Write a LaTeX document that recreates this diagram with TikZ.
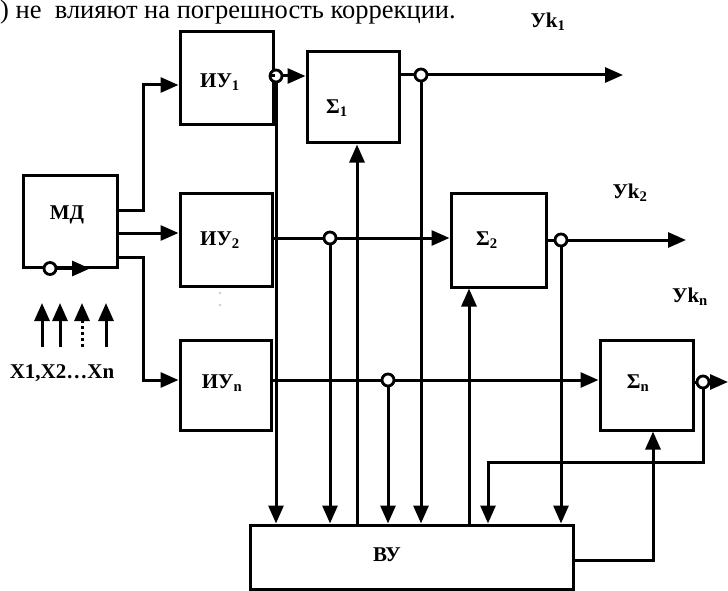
\documentclass[tikz,border=0pt]{standalone}
\usepackage{fontspec}
\setmainfont{Liberation Serif}
\usetikzlibrary{arrows.meta}

\begin{document}
\begin{tikzpicture}[
  x=1pt, y=-1pt,
  arrow/.style={->, >={Triangle[length=18pt, width=15pt]}, line width=3pt},
  box/.style={draw, line width=3pt, inner sep=0pt},
  tap/.style={circle, draw, fill=white, line width=2.8pt, minimum size=12pt, inner sep=0pt},
  lbl/.style={font=\fontsize{21}{25}\selectfont\bfseries, inner sep=1pt},
]
\useasboundingbox (0,0) rectangle (728,591);

% Text line above
\node[anchor=base west, font=\fontsize{26.5}{30}\selectfont, inner sep=0pt] (cap) at (0,19) {) не\ \ влияют на погрешность коррекции.};

% Blocks
\node[box, minimum width=94pt, minimum height=92pt] (md) at (70,221) {};
\node[box, minimum width=93pt, minimum height=93pt] (iu1) at (226.5,78.5) {};
\node[box, minimum width=92pt, minimum height=93pt] (iu2) at (226,239.5) {};
\node[box, minimum width=91pt, minimum height=90pt] (iun) at (225.5,385) {};
\node[box, minimum width=92pt, minimum height=91pt] (s1) at (353,97.5) {};
\node[box, minimum width=95pt, minimum height=94pt] (s2) at (498.5,240) {};
\node[box, minimum width=93pt, minimum height=90pt] (sn) at (646.5,385) {};
\node[box, minimum width=323pt, minimum height=64pt] (vu) at (411.5,557) {};

% Block texts
\node[lbl] (md-t) at (67,215) {МД};
\node[lbl] (iu1-t) at (220,82) {ИУ\textsubscript{1}};
\node[lbl] (iu2-t) at (220,240) {ИУ\textsubscript{2}};
\node[lbl] (iun-t) at (222,383) {ИУ\textsubscript{n}};
\node[lbl] (s1-t) at (337,108) {Σ\textsubscript{1}};
\node[lbl] (s2-t) at (487,240) {Σ\textsubscript{2}};
\node[lbl] (sn-t) at (638,383) {Σ\textsubscript{n}};
\node[lbl] (vu-t) at (387,555) {ВУ};
\fill[gray!40] (220,293) circle (1.3pt) (220,305) circle (1.3pt);

% Outputs
\node[lbl] (yk1) at (548,22) {Уk\textsubscript{1}};
\node[lbl] (yk2) at (630,193) {Уk\textsubscript{2}};
\node[lbl] (ykn) at (690,297) {Уk\textsubscript{n}};
\coordinate (o1) at (623,75);
\coordinate (o2) at (686,240);
\coordinate (on) at (728,382);

% Inputs
\node[lbl] (xin) at (62,373) {X1,X2…Xn};
\foreach \xx in {42,60,106}
  \draw[arrow] (\xx,347) -- (\xx,303);
\draw[arrow, dash pattern=on 3pt off 3pt] (82,347) -- (82,303);

% Taps
\node[tap] (t0) at (md.south -| 50,0) {};
\node[tap] (t1) at (276,76) {};
\node[tap] (t2) at (421,75) {};
\node[tap] (t3) at (330,238) {};
\node[tap] (t4) at (561,240) {};
\node[tap] (t5) at (388,380) {};
\node[tap] (t6) at (703,382) {};

% MD -> IU
\draw[arrow] (t0) -- (md.south -| 90,0);
\draw[arrow] (md.east |- 0,210) -- (143,210) |- (iu1.west |- 0,85);
\draw[arrow] (md.east |- 0,233) -- (iu2.west |- 0,233);
\draw[arrow] (md.east |- 0,257) -- (143,257) |- (iun.west |- 0,380);

% IU -> Sigma
\draw[line width=3pt] (iu1.east |- t1) -- (t1);
\draw[arrow] (t1) -- (s1.west |- t1);
\draw[line width=3pt] (iu2.east |- t3) -- (t3);
\draw[arrow] (t3) -- (s2.west |- t3);
\draw[line width=3pt] (iun.east |- t5) -- (t5);
\draw[arrow] (t5) -- (sn.west |- t5);

% Sigma outputs
\draw[line width=3pt] (s1.east |- t2) -- (t2);
\draw[arrow] (t2) -- (o1);
\draw[line width=3pt] (s2.east |- t4) -- (t4);
\draw[arrow] (t4) -- (o2);
\draw[line width=3pt] (sn.east |- t6) -- (t6);
\draw[arrow] (t6) -- (on);

% Taps -> VU
\draw[arrow] (t1) -- (t1 |- vu.north);
\draw[arrow] (t3) -- (t3 |- vu.north);
\draw[arrow] (t5) -- (t5 |- vu.north);
\draw[arrow] (t2) -- (t2 |- vu.north);
\draw[arrow] (t4) -- (t4 |- vu.north);
\draw[arrow] (t6) -- (t6 |- 0,462) -| (vu.north -| 488,0);

% VU -> Sigma
\draw[arrow] (vu.north -| 357,0) -- (s1.south -| 357,0);
\draw[arrow] (vu.north -| 469,0) -- (s2.south -| 469,0);
\draw[arrow] (vu.east |- 0,560) -| (sn.south -| 653,0);
\end{tikzpicture}
\end{document}
